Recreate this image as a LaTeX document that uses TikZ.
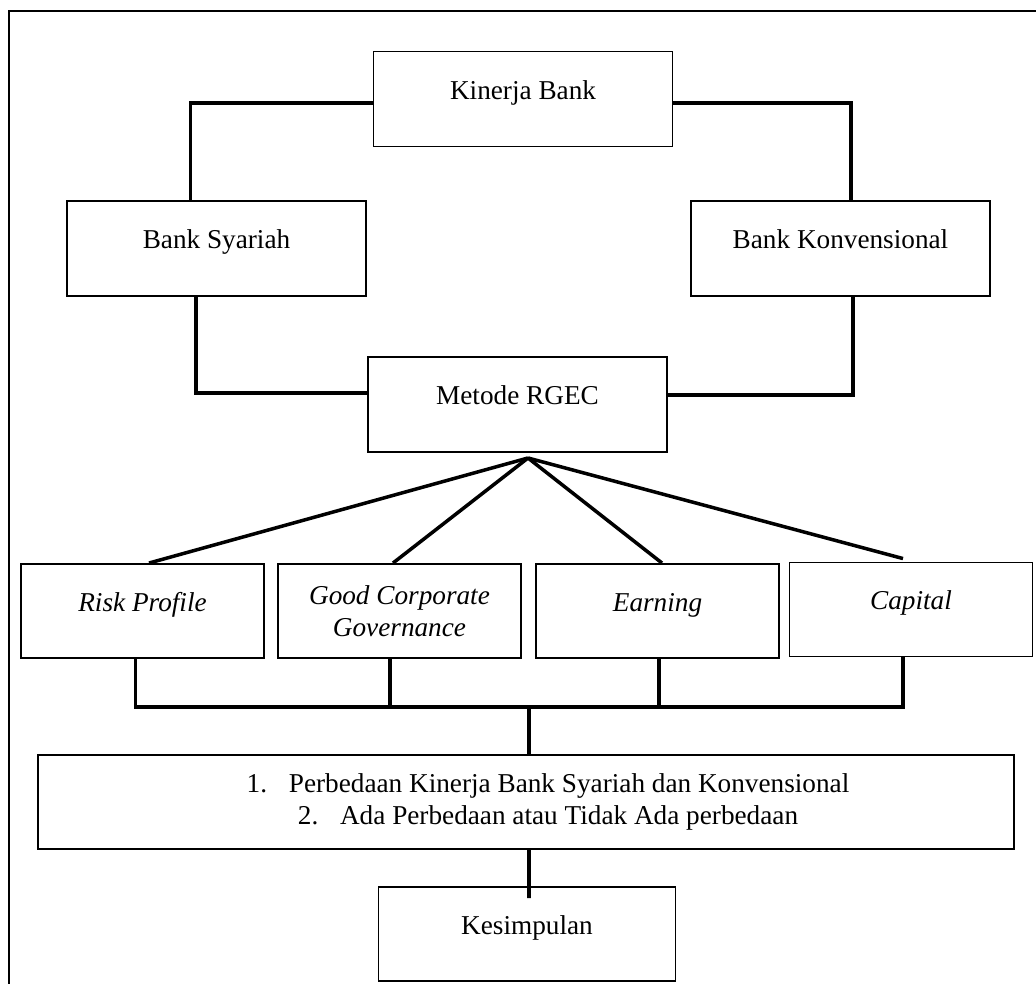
\documentclass[tikz,border=0pt]{standalone}
\usepackage{fontspec}
\setmainfont{Liberation Serif}
\usepackage{tikz}

\begin{document}
\begin{tikzpicture}[x=0.02cm,y=-0.02cm,
  box/.style={draw, line width=1.1pt, minimum width=5.98cm, minimum height=1.9cm,
    font=\fontsize{15.5}{18}\selectfont, inner sep=0pt},
  mid/.style={text height=0.35cm, text depth=0.35cm},
  small/.style={minimum width=4.86cm, minimum height=1.88cm},
  conn/.style={line width=2pt}]

\useasboundingbox (0,0) rectangle (1036,984);
\draw[line width=0.75pt] (1036,11)--(9,11)--(9,984);

% upper part
\node[box,mid] (kinerja) at (523,99) {Kinerja Bank};
\node[box,mid] (syariah) at (216.5,248.5) {Bank Syariah};
\node[box,mid] (konven) at (840.5,248.5) {Bank Konvensional};
\node[box,mid] (rgec) at (517.5,404.5) {Metode RGEC};

\draw[conn] ([yshift=-0.08cm]kinerja.west) -| ([xshift=-0.52cm]syariah.north);
\draw[conn] ([yshift=-0.08cm]kinerja.east) -| ([xshift=0.21cm]konven.north);
\draw[conn] ([xshift=-0.41cm]syariah.south) |- ([yshift=0.23cm]rgec.west);
\draw[conn] ([xshift=0.25cm]konven.south) |- ([yshift=0.19cm]rgec.east);

% RGEC components
\node[box,small,mid] (risk) at (142.5,611) {\itshape Risk Profile};
\node[box,small,align=center] (gcg) at (399.5,611) {\itshape Good Corporate\\ \itshape Governance};
\node[box,small,mid] (earning) at (657.5,611) {\itshape Earning};
\node[box,small,mid] (capital) at (911,609.5) {\itshape Capital};

\coordinate (apex) at (528,458);
\draw[conn] (apex) -- ([xshift=0.13cm]risk.north);
\draw[conn] (apex) -- ([xshift=-0.13cm]gcg.north);
\draw[conn] (apex) -- ([xshift=0.09cm]earning.north);
\draw[conn] (apex) -- ([xshift=-0.16cm,yshift=0.06cm]capital.north);

% result
\coordinate (bus) at (529,707);
\draw[conn] ([xshift=-0.14cm]risk.south) |- (bus);
\draw[conn] ([xshift=-0.16cm]capital.south) |- (bus);
\draw[conn] ([xshift=-0.19cm]gcg.south) -- ([xshift=-0.19cm]gcg.south |- bus);
\draw[conn] ([xshift=0.03cm]earning.south) -- ([xshift=0.03cm]earning.south |- bus);

\node[box,minimum width=19.51cm,minimum height=1.88cm,align=center] (hasil) at (526,802)
  {\hspace*{0.88cm}1.\hspace{0.8em}Perbedaan Kinerja Bank Syariah dan Konvensional\\
   \hspace*{0.88cm}2.\hspace{0.8em}Ada Perbedaan atau Tidak Ada perbedaan};
\node[box,minimum width=5.94cm,minimum height=1.88cm,mid] (simpul) at (527,934) {Kesimpulan};

\draw[conn] (bus) -- ([xshift=0.06cm]hasil.north);
\draw[conn] ([xshift=0.06cm]hasil.south) -- ([xshift=0.04cm,yshift=-0.24cm]simpul.north);

\end{tikzpicture}
\end{document}
